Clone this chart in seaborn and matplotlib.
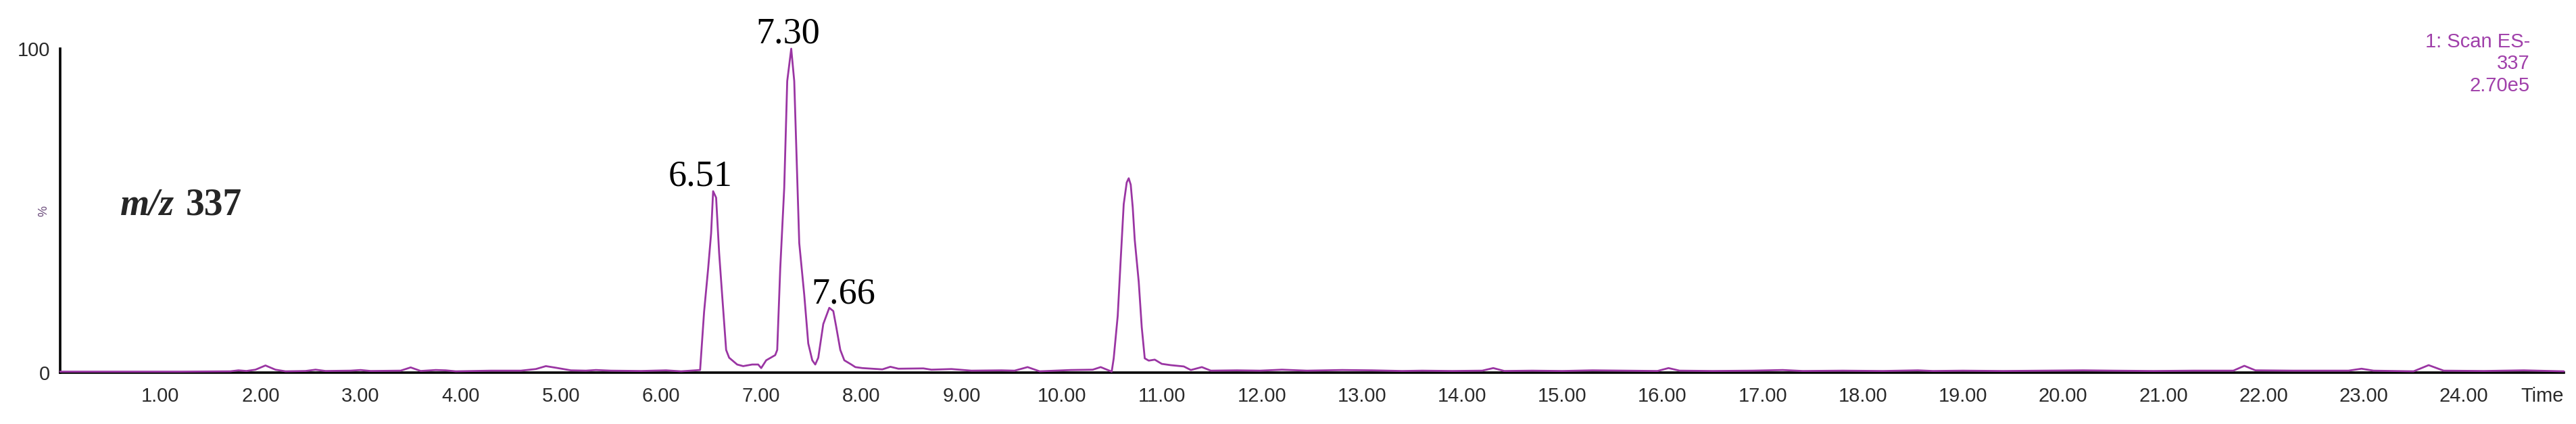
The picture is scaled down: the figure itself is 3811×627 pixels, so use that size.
import matplotlib
matplotlib.use("Agg")
import matplotlib.pyplot as plt
import seaborn as sns
from matplotlib.ticker import MultipleLocator, FuncFormatter

rt = [
    0.00, 0.60, 1.20, 1.70, 1.78, 1.86, 1.95, 2.05, 2.15, 2.25,
    2.45, 2.55, 2.65, 2.90, 3.00, 3.10, 3.40, 3.50, 3.60, 3.75,
    3.85, 3.95, 4.30, 4.60, 4.75, 4.85, 4.95, 5.10, 5.25, 5.35,
    5.50, 5.80, 6.05, 6.20, 6.39, 6.43, 6.47, 6.50, 6.52, 6.55,
    6.58, 6.61, 6.65, 6.68, 6.76, 6.82, 6.91, 6.97, 7.00, 7.05,
    7.14, 7.16, 7.19, 7.23, 7.26, 7.30, 7.33, 7.35, 7.38, 7.43,
    7.47, 7.51, 7.54, 7.57, 7.62, 7.68, 7.72, 7.75, 7.79, 7.83,
    7.90, 7.94, 8.01, 8.21, 8.29, 8.37, 8.62, 8.70, 8.90, 9.10,
    9.40, 9.53, 9.66, 9.78, 10.09, 10.31, 10.39, 10.50, 10.52, 10.56,
    10.59, 10.62, 10.65, 10.67, 10.69, 10.71, 10.73, 10.77, 10.80, 10.83,
    10.87, 10.93, 11.00, 11.09, 11.22, 11.29, 11.40, 11.49, 11.75, 11.98,
    12.20, 12.45, 12.80, 13.10, 13.40, 13.60, 13.90, 14.20, 14.31, 14.42,
    14.70, 15.00, 15.30, 15.60, 15.95, 16.06, 16.17, 16.50, 16.90, 17.20,
    17.40, 17.80, 18.20, 18.55, 18.70, 19.00, 19.40, 19.80, 20.20, 20.50,
    20.90, 21.30, 21.70, 21.81, 21.92, 22.30, 22.85, 22.98, 23.10, 23.50,
    23.65, 23.80, 24.20, 24.60, 25.00,
]
intensity = [
    0.3, 0.3, 0.3, 0.4, 0.7, 0.5, 0.9, 2.2, 0.9, 0.4,
    0.5, 0.9, 0.5, 0.6, 0.8, 0.5, 0.6, 1.6, 0.5, 0.8,
    0.7, 0.4, 0.6, 0.6, 1.1, 2.0, 1.5, 0.7, 0.6, 0.8,
    0.6, 0.5, 0.7, 0.4, 0.8, 18.8, 32, 43, 56, 54,
    37, 24, 7, 4.6, 2.5, 2.0, 2.5, 2.5, 1.4, 3.8,
    5.4, 7, 32, 57, 90, 100, 90, 70, 40, 24,
    9, 3.8, 2.5, 4.6, 15, 20, 19, 14, 7, 3.8,
    2.5, 1.7, 1.4, 1.0, 1.8, 1.2, 1.3, 0.9, 1.1, 0.6,
    0.7, 0.6, 1.7, 0.4, 0.8, 0.9, 1.7, 0.3, 4.4, 17.5,
    35, 52, 58.7, 60, 58, 51, 41, 28, 14, 4.4,
    3.7, 4.0, 2.7, 2.3, 1.9, 0.8, 1.7, 0.6, 0.7, 0.6,
    0.9, 0.6, 0.8, 0.7, 0.5, 0.6, 0.5, 0.6, 1.4, 0.5,
    0.6, 0.5, 0.7, 0.6, 0.5, 1.4, 0.6, 0.5, 0.6, 0.8,
    0.5, 0.6, 0.5, 0.7, 0.5, 0.6, 0.5, 0.6, 0.7, 0.6,
    0.5, 0.6, 0.6, 2.1, 0.7, 0.6, 0.6, 1.2, 0.6, 0.4,
    2.3, 0.6, 0.5, 0.7, 0.4,
]

# rotulos dos picos e onde ficam
peak_labels = ["6.51", "7.30", "7.66"]
peak_label_x = [6.39, 7.27, 7.82]
peak_label_y = [57.8, 101.7, 21.5]

header_lines = ["1: Scan ES-", "337", "2.70e5"]

trace_color = "#9a35a3"
tick_color = "#2a2a2a"

sns.set_theme(style="white")
plt.rcParams["font.family"] = ["Liberation Sans", "DejaVu Sans"]

fig = plt.figure(figsize=(38.11, 6.27), dpi=100)
ax = fig.add_axes([89 / 3811, 76 / 627, 3704 / 3811, 479 / 627])

sns.lineplot(x=rt, y=intensity, ax=ax, color=trace_color, linewidth=2.0,
             clip_on=False, zorder=5)

ax.set_xlim(0, 25)
ax.set_ylim(0, 100)

for side in ["top", "right"]:
    ax.spines[side].set_visible(False)
for side in ["left", "bottom"]:
    ax.spines[side].set_color("black")
    ax.spines[side].set_linewidth(2.6)

# eixo x: marcas a cada 0.1 e maiores a cada 0.5, rotulo so nos inteiros
ax.xaxis.set_major_locator(MultipleLocator(0.5))
ax.xaxis.set_minor_locator(MultipleLocator(0.1))
ax.xaxis.set_major_formatter(FuncFormatter(
    lambda v, p: f"{v:.2f}" if abs(v - round(v)) < 1e-6 and 1 <= v <= 24 else ""))
ax.tick_params(axis="x", which="major", direction="out", length=11, width=1.6,
               color=tick_color, labelsize=21, labelcolor=tick_color, pad=4)
ax.tick_params(axis="x", which="minor", direction="out", length=7, width=1.4,
               color="#444444")

# eixo y
ax.set_yticks([0, 50, 100])
ax.set_yticklabels(["0", "%", "100"])
ax.yaxis.set_minor_locator(MultipleLocator(10))
ax.tick_params(axis="y", which="major", direction="out", length=9, width=1.6,
               color=tick_color, labelsize=21, labelcolor=tick_color, pad=2)
ax.tick_params(axis="y", which="minor", direction="out", length=5, width=1.4,
               color="#555555")
pct = ax.get_yticklabels()[1]
pct.set_rotation(90)
pct.set_fontsize(13)
pct.set_color("#6a4a7a")
pct.set_va("center")

ax.text(25, -4.4, "Time", transform=ax.transData, ha="right", va="top",
        fontsize=21, color=tick_color)

# rotulos dos picos
for lab, x, y in zip(peak_labels, peak_label_x, peak_label_y):
    ax.text(x, y, lab, ha="center", va="baseline", fontsize=39,
            family=["Liberation Serif", "DejaVu Serif"], color="black",
            clip_on=False)

fig.text(178 / 3811, (627 - 317) / 627, "m/z", fontsize=40, style="italic",
         weight="bold", family=["Liberation Serif", "DejaVu Serif"],
         ha="left", va="baseline")
fig.text(275 / 3811, (627 - 317) / 627, "337", fontsize=40, weight="bold",
         family=["Liberation Serif", "DejaVu Serif"], ha="left", va="baseline")

# cabecalho no canto superior direito
for i, line in enumerate(header_lines):
    fig.text(3743 / 3811, (627 - 70 - 32.5 * i) / 627, line, fontsize=21,
             color="#a040aa", ha="right", va="baseline")

fig.savefig("out.png", dpi=100)
